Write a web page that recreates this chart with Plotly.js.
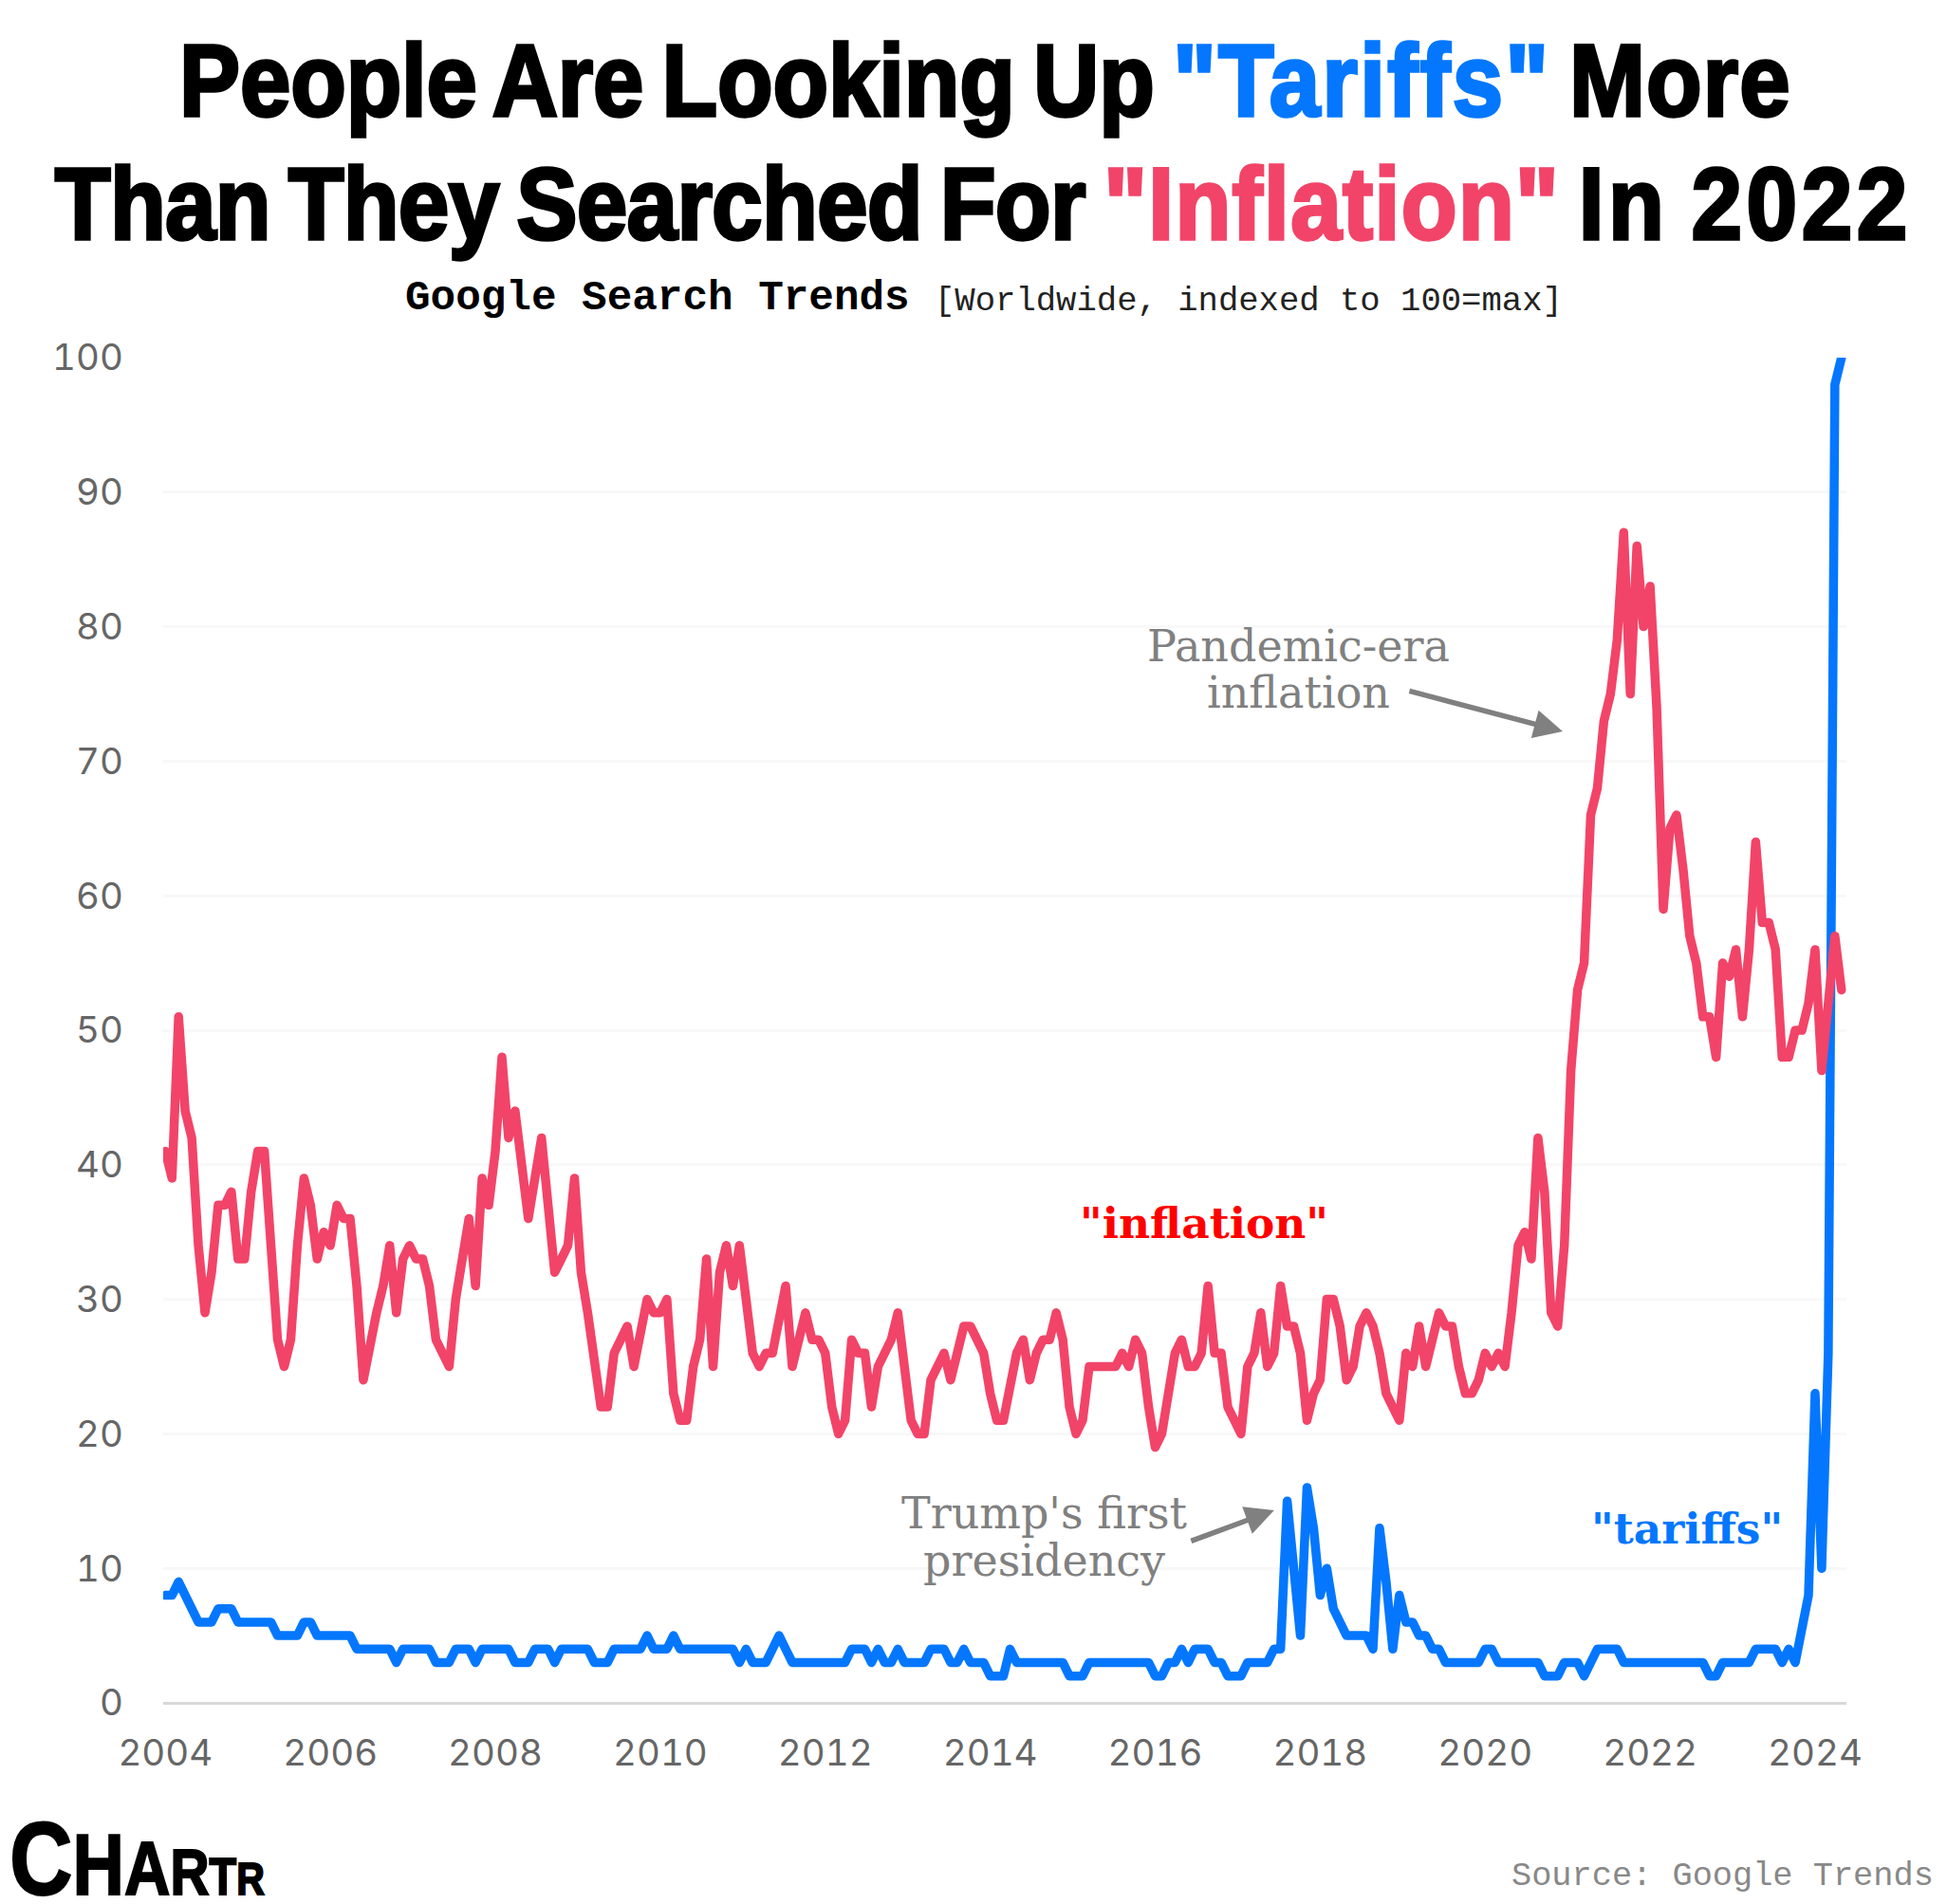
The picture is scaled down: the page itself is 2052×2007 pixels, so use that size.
<!DOCTYPE html>
<html><head><meta charset="utf-8">
<script src="https://cdn.plot.ly/plotly-3.0.1.min.js"></script>
<style>
html,body{margin:0;padding:0;background:#fff}
.scatterlayer path.js-line{stroke-linejoin:round !important;stroke-linecap:round !important}
.xtick text,.ytick text{font-feature-settings:"tnum" 1;font-variant-numeric:tabular-nums}
</style></head><body>
<div id="chart" style="width:2052px;height:2007px"></div>
<script>
const inflation=[41,39,51,44,42,34,29,32,37,37,
38,33,33,38,41,41,34,27,25,27,
34,39,37,33,35,34,37,36,36,31,
24,27,29,31,34,29,33,34,33,33,
31,27,26,25,30,33,36,31,39,37,
41,48,42,44,40,36,39,42,37,32,
33,34,39,32,29,26,22,22,26,27,
28,25,28,30,29,29,30,23,21,21,
25,27,33,25,32,34,31,34,30,26,
25,26,26,29,31,25,27,29,27,27,
26,22,20,21,27,26,26,22,25,26,
27,29,25,21,20,20,24,25,26,24,
26,28,28,27,26,23,21,21,24,26,
27,24,26,27,27,29,27,22,20,21,
25,25,25,25,25,26,25,27,26,22,
19,20,23,26,27,25,25,26,31,26,
26,22,21,20,25,26,29,25,26,31,
28,28,26,21,23,24,30,30,28,24,
25,28,29,28,26,23,22,21,26,25,
28,25,27,29,28,28,25,23,23,24,
26,25,26,25,29,34,35,33,42,38,
29,28,34,47,53,55,66,68,73,75,
79,87,75,86,80,83,74,59,65,66,
62,57,55,51,51,48,55,54,56,51,
56,64,58,58,56,48,48,50,50,52,
56,47,52,57,53];
const tariffs=[8,8,9,8,7,6,6,6,7,7,
7,6,6,6,6,6,6,5,5,5,
5,6,6,5,5,5,5,5,5,4,
4,4,4,4,4,3,4,4,4,4,
4,3,3,3,4,4,4,3,4,4,
4,4,4,3,3,3,4,4,4,3,
4,4,4,4,4,3,3,3,4,4,
4,4,4,5,4,4,4,5,4,4,
4,4,4,4,4,4,4,3,4,3,
3,3,4,5,4,3,3,3,3,3,
3,3,3,3,4,4,4,3,4,3,
3,4,3,3,3,3,4,4,4,3,
3,4,3,3,3,2,2,2,4,3,
3,3,3,3,3,3,3,2,2,2,
3,3,3,3,3,3,3,3,3,3,
2,2,3,3,4,3,4,4,4,3,
3,2,2,2,3,3,3,3,4,4,
15,10,5,16,13,8,10,7,6,5,
5,5,5,4,13,9,4,8,6,6,
5,5,4,4,3,3,3,3,3,3,
4,4,3,3,3,3,3,3,3,2,
2,2,3,3,3,2,3,4,4,4,
4,3,3,3,3,3,3,3,3,3,
3,3,3,3,2,2,3,3,3,3,
3,4,4,4,4,3,4,3,6,8,
23,10,26,98,100];
const monthIndex=inflation.map((_,i)=>i);
const tickYears=["2004","2006","2008","2010","2012","2014","2016","2018","2020","2022","2024"];
const tickPositions=tickYears.map((_,i)=>i*25);
const RED='#F24468',BLUE='#0477FE',GRAY='#808080';
const titleLine1='<span style="letter-spacing:-0.2px">People Are Looking Up</span> <span style="color:'+BLUE+';letter-spacing:2.6px">"Tariffs"</span> <span style="letter-spacing:1.3px">More</span>';
const titleLine2='<span style="letter-spacing:-0.9px">Than They Searched For</span> <span style="color:'+RED+';letter-spacing:1.5px">"Inflation"</span> <span style="letter-spacing:5px">In 2022</span>';
const logoText='<span style="font-size:110px">C</span><span style="font-size:90px">H</span><span style="font-size:80px">A</span><span style="font-size:68px">R</span><span style="font-size:56px">T</span><span style="font-size:49px">R</span>';
const W=2052,H=2007,L=172.4,R=1946,T=377,B=1795;
const px=x=>(x-L)/(R-L), py=y=>1-(y-T)/(B-T);
function note(text,x,y,size,family,color,extra){
  return Object.assign({text,x:px(x),y:py(y),xref:'paper',yref:'paper',showarrow:false,xanchor:'center',yanchor:'middle',
    font:{size,family,color}},extra||{});
}
function arrow(x0,y0,x1,y1,w){
  return {text:'',x:px(x1),y:py(y1),xref:'paper',yref:'paper',showarrow:true,ax:x0-x1,ay:y0-y1,axref:'pixel',ayref:'pixel',
    arrowhead:2,arrowsize:1.1,arrowwidth:w,arrowcolor:GRAY,standoff:0,startstandoff:0};
}
const NARROW='"Liberation Sans Narrow","Liberation Sans",Arial,sans-serif';
const BOLD='"Liberation Sans",Arial,sans-serif';
const SERIF='"DejaVu Serif",serif';
const MONO='"Liberation Mono",monospace';
const annotations=[
 note('<b>'+titleLine1+'</b>',1039,85,108,NARROW,'#000'),
 note('<b>'+titleLine2+'</b>',1037,214,108,NARROW,'#000'),
 note('<b>Google Search Trends</b>',693,314,44.3,MONO,'#000'),
 note('[Worldwide, indexed to 100=max]',1316.5,317,35.6,MONO,'#222'),
 note('Pandemic-era',1369,681,46,SERIF,GRAY),
 note('inflation',1369,730,46,SERIF,GRAY),
 note("Trump's first",1101,1595,46,SERIF,GRAY),
 note('presidency',1101,1645,46,SERIF,GRAY),
 note('<b>"inflation"</b>',1269,1289,45.5,SERIF,'#FF0000'),
 note('<b>"tariffs"</b>',1778,1611,45.5,SERIF,BLUE),
 note('Source: Google Trends',1816,1978,35.3,MONO,'#888888'),
 note('<b>'+logoText+'</b>',144.5,1958,110,BOLD,'#000'),
 arrow(1484,728,1647,771,5.5),
 arrow(1254,1625,1343,1592,5.5)
];
// target rendered width per annotation index: width, stroke, word spacing
const fit={0:[1699,3.5,-8],1:[1957,3.5,-8],11:[269,2,0]};
const traces=[
 {x:monthIndex,y:tariffs,type:'scatter',mode:'lines',name:'tariffs',line:{color:BLUE,width:9.5},hoverinfo:'skip'},
 {x:monthIndex,y:inflation,type:'scatter',mode:'lines',name:'inflation',line:{color:RED,width:9.5},hoverinfo:'skip'}
];
const layout={width:W,height:H,autosize:false,showlegend:false,paper_bgcolor:'#fff',plot_bgcolor:'#fff',
 margin:{l:L,r:W-R,t:T,b:H-B,pad:0},
 xaxis:{range:[-0.33,254.75],tickmode:'array',tickvals:tickPositions,ticktext:tickYears,showgrid:false,zeroline:false,showline:false,ticks:'',
   tickfont:{family:'Inter,sans-serif',size:38.5,color:'#666'},ticklabelstandoff:26},
 yaxis:{range:[0,100],tick0:0,dtick:10,showgrid:true,gridcolor:'#f8f8f8',gridwidth:3,zeroline:true,zerolinecolor:'#d9d9d9',zerolinewidth:3,ticks:'',showline:false,
   tickfont:{family:'Inter,sans-serif',size:38.5,color:'#666'},ticklabelstandoff:41},
 annotations
};
Plotly.newPlot('chart',traces,layout,{staticPlot:true,displayModeBar:false}).then(()=>{
 document.querySelectorAll('g.annotation').forEach(g=>{
   const i=+g.getAttribute('data-index'); const f=fit[i]; if(!f) return;
   const t=g.querySelector('text.annotation-text'); if(!t) return;
   t.style.wordSpacing=f[2]+'px';
   t.style.stroke='#000';t.style.strokeWidth=f[1]+'px';
   t.querySelectorAll('tspan').forEach(s=>{ if(s.style.fill&&s.style.fill!=='rgb(0, 0, 0)'){s.style.stroke=s.style.fill;s.style.strokeWidth=f[1]+'px';} });
   const bb=t.getBBox();
   t.style.transformBox='fill-box';t.style.transformOrigin='center';
   t.style.transform='scaleX('+(f[0]/bb.width)+')';
 });
});
</script></body></html>
